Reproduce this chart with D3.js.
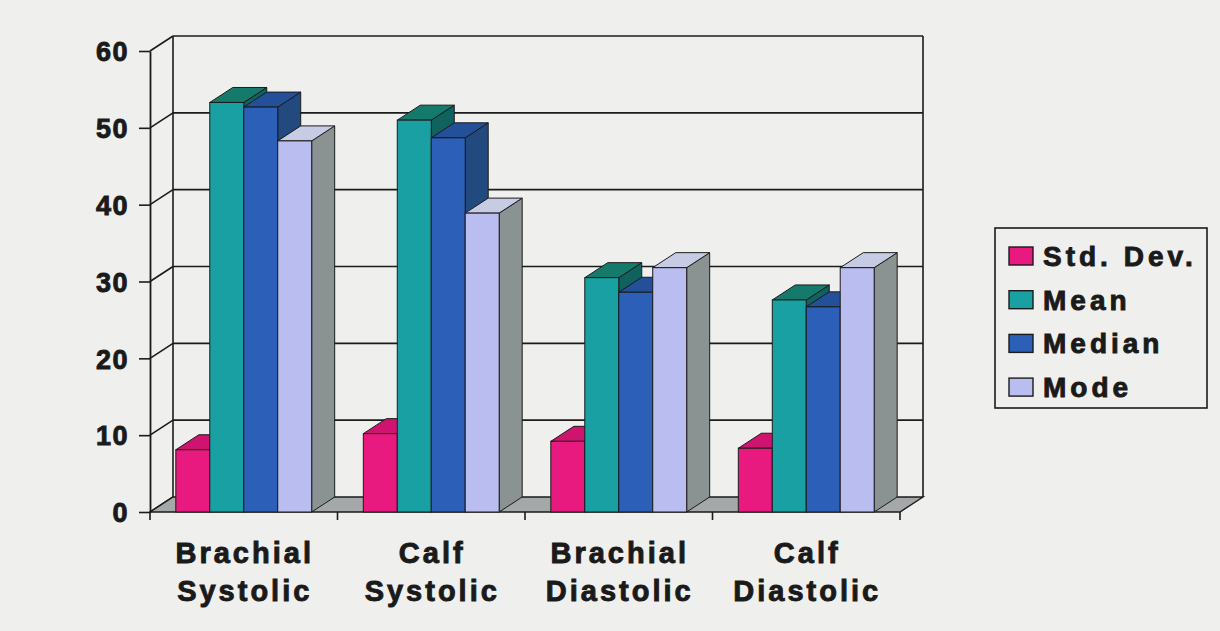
<!DOCTYPE html>
<html>
<head>
<meta charset="utf-8">
<script src="https://cdn.jsdelivr.net/npm/d3@7"></script>
<style>
  html, body { margin: 0; padding: 0; background: #efefed; }
  svg { display: block; font-family: "Liberation Sans", Arial, sans-serif; font-weight: bold; }
  .heavy { stroke: #1a1a1a; stroke-width: 0.9px; paint-order: stroke; }
</style>
</head>
<body>
<svg id="chart" width="1220" height="631"></svg>
<script>
// ---- data ----
const categories = ["Brachial Systolic", "Calf Systolic", "Brachial Diastolic", "Calf Diastolic"];
const seriesNames = ["Std. Dev.", "Mean", "Median", "Mode"];
const stdDev = [8.1, 10.2, 9.2, 8.3];
const mean   = [53.3, 51.0, 30.5, 27.6];
const median = [52.7, 48.7, 28.6, 26.7];
const mode   = [48.3, 38.9, 31.8, 31.8];
const yTicks = [0, 10, 20, 30, 40, 50, 60];

const seriesValues = [stdDev, mean, median, mode];
// front / top / side shades for each series
const seriesColors = [
  { front: "#e8197f", top: "#cf1470", side: "#a3105a" },
  { front: "#18a0a2", top: "#147a6c", side: "#10625f" },
  { front: "#2b5fb8", top: "#24509a", side: "#234a7e" },
  { front: "#babdf0", top: "#c8cbe4", side: "#8a9292" }
];

// ---- geometry ----
const svg = d3.select("#chart");
const depthX = 23, depthY = -15;   // oblique offset of the back plane
const ink = "#1b1b1b";

const x = d3.scaleBand().domain(categories).range([150, 900]).paddingInner(0).paddingOuter(0);
const xs = d3.scaleBand().domain(seriesNames).range([0, x.bandwidth()]).paddingInner(0).paddingOuter(0.76);
const y = d3.scaleLinear().domain([0, 60]).range([512, 51]);

const x0 = x.range()[0], x1 = x.range()[1];
const yBase = y(0), yTop = y(60);

// back wall gridlines
svg.append("g").selectAll("line").data(yTicks.filter(v => v > 0)).join("line")
  .attr("x1", x0 + depthX).attr("x2", x1 + depthX)
  .attr("y1", d => y(d) + depthY).attr("y2", d => y(d) + depthY)
  .attr("stroke", ink).attr("stroke-width", 1.6);

// back wall vertical edges
svg.append("g").selectAll("line").data([x0 + depthX, x1 + depthX]).join("line")
  .attr("x1", d => d).attr("x2", d => d)
  .attr("y1", yBase + depthY).attr("y2", yTop + depthY)
  .attr("stroke", ink).attr("stroke-width", 1.6);

// side wall gridlines (front axis to back wall)
svg.append("g").selectAll("line").data(yTicks).join("line")
  .attr("x1", x0).attr("x2", x0 + depthX)
  .attr("y1", d => y(d)).attr("y2", d => y(d) + depthY)
  .attr("stroke", ink).attr("stroke-width", 1.6);

// floor
svg.append("path")
  .attr("d", `M${x0},${yBase}L${x1},${yBase}L${x1 + depthX},${yBase + depthY}L${x0 + depthX},${yBase + depthY}Z`)
  .attr("fill", "#a5a8a8").attr("stroke", ink).attr("stroke-width", 1.4);

// bars: painted left to right so later bars hide earlier side faces
const bars = [];
categories.forEach((c, ci) => {
  seriesNames.forEach((s, si) => {
    bars.push({ cat: c, series: s, si, value: seriesValues[si][ci] });
  });
});

const barG = svg.append("g").selectAll("g").data(bars).join("g");
barG.each(function (d) {
  const g = d3.select(this);
  const bx = x(d.cat) + xs(d.series);
  const bw = xs.bandwidth();
  const by = y(d.value);
  const col = seriesColors[d.si];
  // right side face
  g.append("path")
    .attr("d", `M${bx + bw},${yBase}L${bx + bw + depthX},${yBase + depthY}L${bx + bw + depthX},${by + depthY}L${bx + bw},${by}Z`)
    .attr("fill", col.side).attr("stroke", ink).attr("stroke-width", 1).attr("stroke-linejoin", "round");
  // top face
  g.append("path")
    .attr("d", `M${bx},${by}L${bx + bw},${by}L${bx + bw + depthX},${by + depthY}L${bx + depthX},${by + depthY}Z`)
    .attr("fill", col.top).attr("stroke", ink).attr("stroke-width", 1).attr("stroke-linejoin", "round");
  // front face
  g.append("rect")
    .attr("x", bx).attr("y", by).attr("width", bw).attr("height", yBase - by)
    .attr("fill", col.front).attr("stroke", ink).attr("stroke-width", 1);
});

// value axis on the front plane
const yAxis = svg.append("g").attr("transform", `translate(${x0},0)`)
  .call(d3.axisLeft(y).tickValues(yTicks).tickSize(11).tickSizeOuter(0).tickPadding(10));
yAxis.select(".domain").attr("stroke", ink).attr("stroke-width", 1.8);
yAxis.selectAll(".tick line").attr("stroke", ink).attr("stroke-width", 1.6);
yAxis.selectAll(".tick text")
  .attr("class", "heavy")
  .attr("fill", "#1a1a1a").attr("font-size", 27).attr("font-weight", "bold")
  .attr("font-family", "'Liberation Sans', Arial, sans-serif")
  .attr("dy", "0.36em").style("letter-spacing", "1.5px");

// category tick marks at band boundaries
const bounds = categories.map(c => x(c)).concat([x1]);
svg.append("g").selectAll("line").data(bounds).join("line")
  .attr("x1", d => d).attr("x2", d => d)
  .attr("y1", yBase).attr("y2", yBase + 8)
  .attr("stroke", ink).attr("stroke-width", 1.6);

// category labels (two lines each)
const catLabels = svg.append("g").selectAll("text").data(categories).join("text")
  .attr("class", "heavy")
  .attr("x", d => x(d) + x.bandwidth() / 2 + 1)
  .attr("y", 563)
  .attr("text-anchor", "middle")
  .attr("font-size", 29)
  .attr("fill", "#1a1a1a")
  .style("letter-spacing", "3px");
catLabels.each(function (d) {
  const parts = d.split(" ");
  const t = d3.select(this);
  parts.forEach((p, i) => {
    t.append("tspan").attr("x", x(d) + x.bandwidth() / 2 + 1).attr("dy", i === 0 ? 0 : 38).text(p);
  });
});

// legend
const legend = svg.append("g").attr("transform", "translate(995,228)");
legend.append("rect").attr("width", 212).attr("height", 180)
  .attr("fill", "none").attr("stroke", ink).attr("stroke-width", 1.6);
const rows = legend.selectAll("g").data(seriesNames).join("g")
  .attr("transform", (d, i) => `translate(0,${28 + i * 43.7})`);
rows.append("rect").attr("x", 14).attr("y", -9).attr("width", 24).attr("height", 18)
  .attr("fill", (d, i) => seriesColors[i].front).attr("stroke", ink).attr("stroke-width", 1.4);
rows.append("text").attr("x", 48).attr("y", 10)
  .attr("class", "heavy")
  .attr("font-size", 28).attr("fill", "#1a1a1a")
  .style("letter-spacing", "4px")
  .text(d => d);
</script>
</body>
</html>
